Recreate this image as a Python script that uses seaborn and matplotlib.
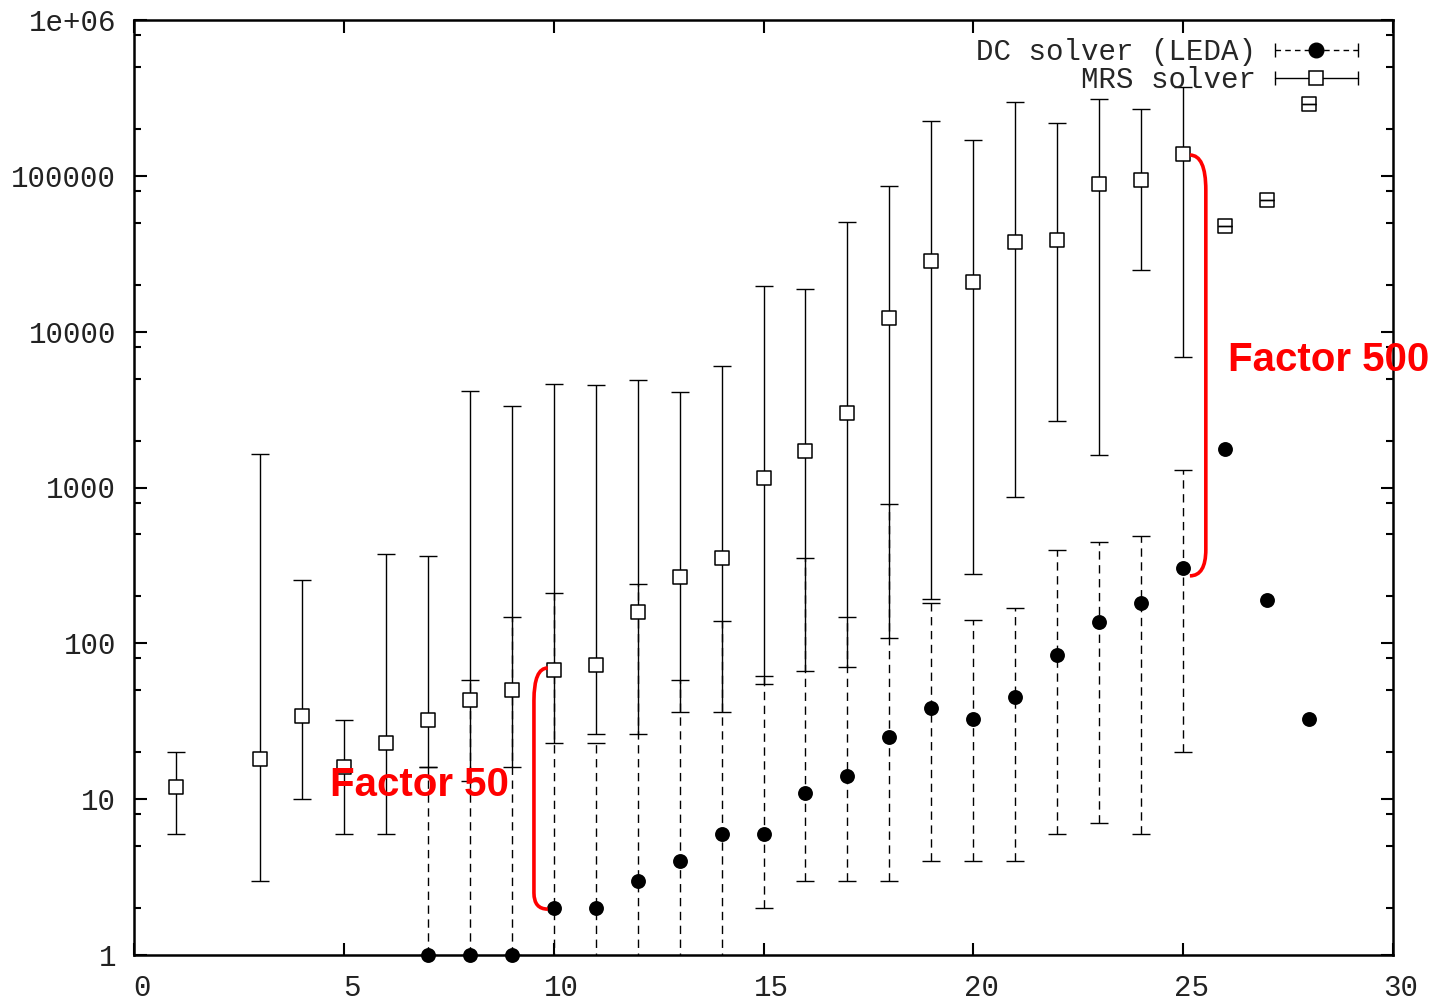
import numpy as np
import matplotlib
matplotlib.use('Agg')
import matplotlib.pyplot as plt
import matplotlib.transforms as mtransforms
from matplotlib.lines import Line2D
from matplotlib.path import Path
from matplotlib.patches import PathPatch
from matplotlib.ticker import LogLocator, FixedLocator, FixedFormatter, NullFormatter
from matplotlib.legend_handler import HandlerLine2D
import seaborn as sns

# MRS solver: problem size vs. time
mrs_x = [1, 3, 4, 5, 6, 7, 8, 9, 10, 11, 12, 13, 14, 15, 16, 17, 18, 19, 20, 21, 22, 23, 24, 25, 26, 27, 28]
mrs_y = [12, 18, 34, 16, 23, 32, 43, 50, 67, 73, 159, 267, 353, 1150, 1720, 3010, 12300, 28400,
         20900, 37800, 38700, 88800, 93900, 138000, 47800, 70200, 290000]
mrs_lo = [6, 3, 10, 6, 6, 16, 13, 16, 23, 26, 26, 36, 36, 55, 66, 70, 108, 192, 277, 866, 2660,
          1620, 24800, 6890]
mrs_hi = [20, 1650, 255, 32, 375, 365, 4170, 3340, 4620, 4570, 4900, 4110, 6030, 19700, 18800,
          50700, 86300, 225000, 170000, 297000, 219000, 313000, 268000, 372000]

# DC solver (LEDA)
dc_x = [7, 8, 9, 10, 11, 12, 13, 14, 15, 16, 17, 18, 19, 20, 21, 22, 23, 24, 25, 26, 27, 28]
dc_y = [1, 1, 1, 2, 2, 3, 4, 6, 6, 11, 14, 25, 38.5, 32.5, 45.5, 84, 137, 182, 303, 1770, 190, 32.7]
dc_lo = [1, 1, 1, 0.1, 0.1, 0.1, 0.1, 0.1, 2, 3, 3, 3, 4, 4, 4, 6, 7, 6, 20]
dc_hi = [16, 58, 148, 211, 23, 240, 58, 140, 62, 352, 148, 780, 182, 141, 169, 398, 449, 488, 1290]

x_ticks = [0, 5, 10, 15, 20, 25, 30]
y_ticks = [1, 10, 100, 1000, 10000, 100000, 1000000]
y_tick_labels = ['1', '10', '100', '1000', '10000', '100000', '1e+06']

sns.set_theme(style='ticks')
plt.rcParams['font.family'] = ['Liberation Mono', 'DejaVu Sans']

fig = plt.figure(figsize=(14.33, 10.02), dpi=100)
ax = fig.add_axes([134 / 1433, 47 / 1002, 1259 / 1433, 935 / 1002])
ax.set_yscale('log')

# DC error bars (dashed)
n_dc = len(dc_lo)
dcy = np.array(dc_y[:n_dc])
dc_err = [dcy - np.array(dc_lo), np.array(dc_hi) - dcy]
eb = ax.errorbar(dc_x[:n_dc], dcy, yerr=dc_err, fmt='none', ecolor='black',
                 elinewidth=1.0, capsize=6.5, capthick=1.0, zorder=2)
eb[2][0].set_linestyle((0, (6, 4)))

# MRS error bars (solid)
n_mrs = len(mrs_lo)
my = np.array(mrs_y[:n_mrs])
mrs_err = [my - np.array(mrs_lo), np.array(mrs_hi) - my]
ax.errorbar(mrs_x[:n_mrs], my, yerr=mrs_err, fmt='none', ecolor='black',
            elinewidth=1.0, capsize=6.5, capthick=1.0, zorder=3)

sns.scatterplot(x=dc_x, y=dc_y, marker='o', s=115, color='black', edgecolor='black',
                linewidth=0, ax=ax, zorder=4, clip_on=False)
sns.scatterplot(x=mrs_x, y=mrs_y, marker='s', s=100, facecolor='white', edgecolor='black',
                linewidth=1.1, ax=ax, zorder=5)
# points without spread: zero-length bars give the line through the box
ax.errorbar(mrs_x[n_mrs:], mrs_y[n_mrs:], yerr=0, fmt='none', ecolor='black',
            elinewidth=1.0, capsize=5, capthick=1.0, zorder=6)

# red brackets
def bracket(x_end, x_line, y_top, y_top_c, y_bot_c, y_bot):
    verts = [(x_end, y_top), (x_line, y_top), (x_line, y_top_c),
             (x_line, y_bot_c), (x_line, y_bot), (x_end, y_bot)]
    codes = [Path.MOVETO, Path.CURVE3, Path.CURVE3, Path.LINETO, Path.CURVE3, Path.CURVE3]
    ax.add_patch(PathPatch(Path(verts, codes), fill=False, edgecolor='#ff0000',
                           linewidth=2.6, zorder=7, clip_on=False))

bracket(9.86, 9.53, 69.5, 43, 2.5, 1.97)
bracket(25.16, 25.54, 136000, 81000, 400, 271)

ax.text(4.67, 12.3, 'Factor 50', color='#ff0000', fontsize=29, fontweight='bold',
        family='Liberation Sans', ha='left', va='center', zorder=8)
ax.text(26.07, 6600, 'Factor 500', color='#ff0000', fontsize=29, fontweight='bold',
        family='Liberation Sans', ha='left', va='center', zorder=8, clip_on=False)

ax.set_xlim(0, 30)
ax.set_ylim(1, 1e6)
ax.xaxis.set_major_locator(FixedLocator(x_ticks))
ax.yaxis.set_major_locator(FixedLocator(y_ticks))
ax.yaxis.set_major_formatter(FixedFormatter(y_tick_labels))
ax.yaxis.set_minor_locator(LogLocator(base=10, subs=(2, 5, 8)))
ax.yaxis.set_minor_formatter(NullFormatter())
ax.tick_params(which='both', direction='in', top=True, right=True, width=1.5,
               color='black', labelsize=21, labelcolor='#222222')
ax.tick_params(which='major', length=9, pad=13)
ax.tick_params(which='minor', length=5)
ax.tick_params(axis='x', pad=14)
for sp in ax.spines.values():
    sp.set_linewidth(1.8)
    sp.set_color('black')
ax.grid(False)

shift = mtransforms.ScaledTranslation(0.08, 0, fig.dpi_scale_trans)
for lab in ax.get_xticklabels():
    lab.set_transform(lab.get_transform() + shift)

# legend in gnuplot style
dc_line = Line2D([], [], color='black', lw=1.0, ls=(0, (4, 3)), marker='|', markersize=10,
                 markeredgewidth=1.0)
dc_mark = Line2D([], [], color='black', ls='none', marker='o', markersize=10.5)
mrs_line = Line2D([], [], color='black', lw=1.0, marker='|', markersize=10, markeredgewidth=1.0)
mrs_mark = Line2D([], [], color='black', ls='none', marker='s', markersize=10,
                  markerfacecolor='white', markeredgewidth=1.1)
hmap = {dc_line: HandlerLine2D(numpoints=2, marker_pad=0),
        mrs_line: HandlerLine2D(numpoints=2, marker_pad=0),
        dc_mark: HandlerLine2D(numpoints=1),
        mrs_mark: HandlerLine2D(numpoints=1)}
ax.legend([(dc_line, dc_mark), (mrs_line, mrs_mark)], ['DC solver (LEDA)', 'MRS solver'],
          handler_map=hmap, loc='upper right', bbox_to_anchor=(0.9722, 0.981),
          frameon=False, markerfirst=False, fontsize=21, handlelength=2.85,
          handletextpad=0.65, labelspacing=0.0, borderpad=0, borderaxespad=0)

fig.savefig('out.png', dpi=100)
